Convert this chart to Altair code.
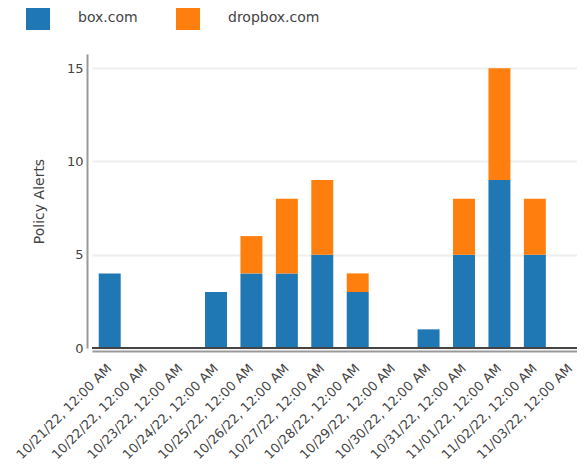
import altair as alt
import pandas as pd

dates = ["10/21/22, 12:00 AM", "10/22/22, 12:00 AM", "10/23/22, 12:00 AM",
         "10/24/22, 12:00 AM", "10/25/22, 12:00 AM", "10/26/22, 12:00 AM",
         "10/27/22, 12:00 AM", "10/28/22, 12:00 AM", "10/29/22, 12:00 AM",
         "10/30/22, 12:00 AM", "10/31/22, 12:00 AM", "11/01/22, 12:00 AM",
         "11/02/22, 12:00 AM", "11/03/22, 12:00 AM"]
box = [4, 0, 0, 3, 4, 4, 5, 3, 0, 1, 5, 9, 5, 0]
dropbox = [0, 0, 0, 0, 2, 4, 4, 1, 0, 0, 3, 6, 3, 0]
series = ["box.com", "dropbox.com"]
colors = ["#1f77b4", "#ff7f0e"]

rows = []
for i, d in enumerate(dates):
    rows.append({"date": d, "service": series[0], "alerts": box[i], "ord": 0})
    rows.append({"date": d, "service": series[1], "alerts": dropbox[i], "ord": 1})
df = pd.DataFrame(rows)

FONT = "DejaVu Sans"
TXT = "#444444"

xscale = alt.Scale(domain=dates, paddingInner=0.38, paddingOuter=0.19,
                   range=[0, 496])
yscale = alt.Scale(domain=[0, 15.76], nice=False, zero=True)

bars = alt.Chart(df).mark_bar().encode(
    x=alt.X("date:N", scale=xscale, sort=dates,
            axis=alt.Axis(title=None, labelAngle=-45, labelAlign="right",
                          labelBaseline="middle", labelPadding=15, ticks=False,
                          offset=3, domainColor="#999999", domainWidth=2,
                          labelFont=FONT, labelFontSize=13, labelColor=TXT,
                          grid=False)),
    y=alt.Y("alerts:Q", stack="zero", scale=yscale,
            axis=alt.Axis(title="Policy Alerts", values=[0, 5, 10, 15],
                          ticks=False, offset=5, domainColor="#999999",
                          domainWidth=2, labelFont=FONT, labelFontSize=13,
                          labelColor=TXT, labelPadding=4,
                          titleFont=FONT, titleFontSize=14, titleColor=TXT,
                          titleFontWeight="normal", titlePadding=20,
                          grid=True, gridColor="#eeeeee", gridWidth=2)),
    color=alt.Color("service:N", scale=alt.Scale(domain=series, range=colors),
                    legend=alt.Legend(title=None, orient="none", legendX=-66,
                                      legendY=-48, direction="horizontal",
                                      symbolType="square", symbolSize=576,
                                      symbolStrokeWidth=0, symbolOpacity=1,
                                      labelFont=FONT, labelFontSize=14,
                                      labelColor=TXT, labelOffset=28,
                                      columnPadding=38, padding=0)),
    order=alt.Order("ord:Q"),
)

zero = alt.Chart(pd.DataFrame({"v": [0]})).mark_rule(
    color="#444444", strokeWidth=2
).encode(y=alt.Y("v:Q", scale=yscale), x=alt.value(0), x2=alt.value(496))

chart = alt.layer(bars, zero).properties(
    width=485, height=294,
    autosize=alt.AutoSizeParams(type="none"),
    padding={"left": 84, "top": 46, "right": 0, "bottom": 121},
).configure_view(stroke=None)

chart.save("out.html", embed_options={"renderer": "svg", "actions": False})
